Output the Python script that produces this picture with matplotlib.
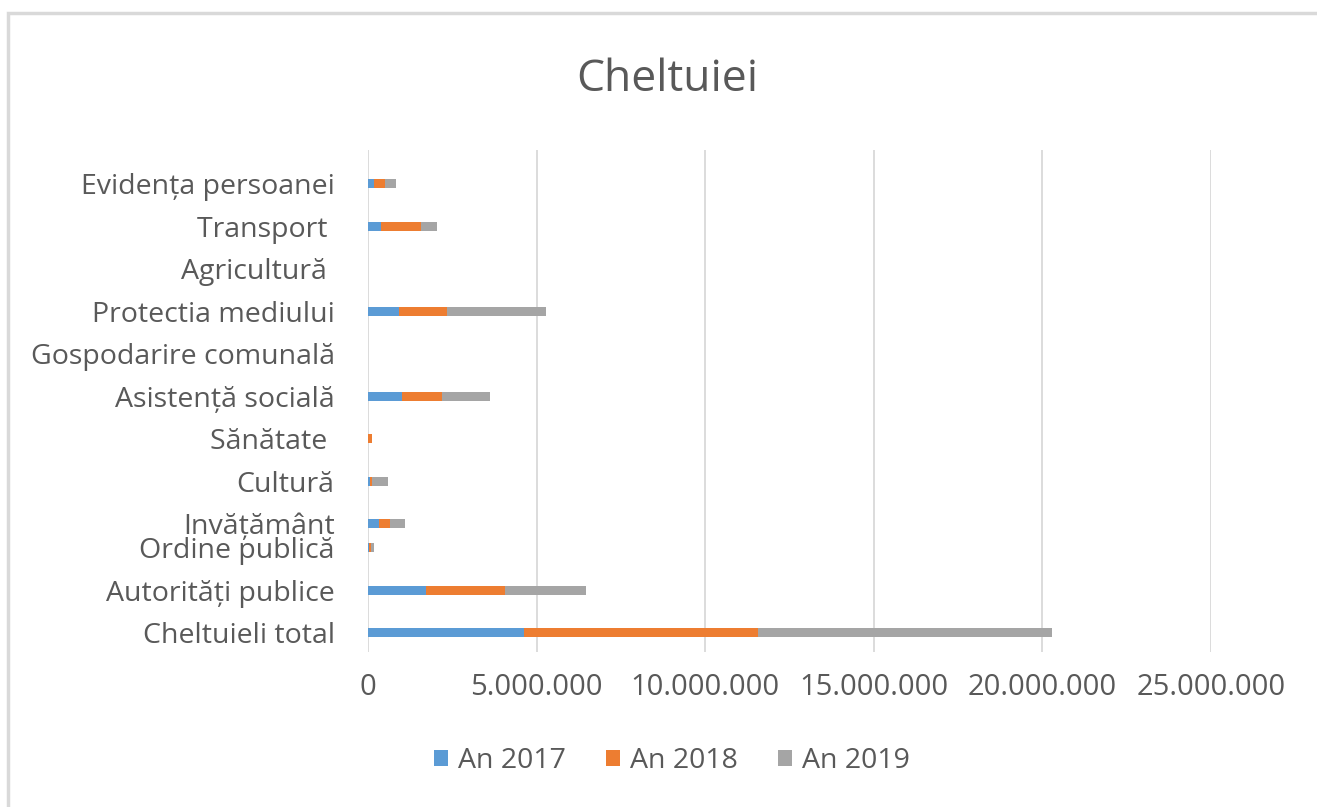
import numpy as np
import matplotlib.pyplot as plt
from matplotlib.patches import Rectangle, Patch
from matplotlib.ticker import FuncFormatter

plt.rcParams["font.family"] = ["Open Sans", "DejaVu Sans"]

# categories, bottom to top
categories = [
    "Cheltuieli total", "Autorități publice", "Ordine publică", "Invățământ",
    "Cultură", "Sănătate ", "Asistență socială", "Gospodarire comunală",
    "Protectia mediului", "Agricultură ", "Transport ", "Evidența persoanei",
]
an_2017 = [4620000, 1730000, 20000, 330000, 60000, 10000, 1010000, 0, 910000, 0, 390000, 180000]
an_2018 = [6960000, 2340000, 80000, 310000, 60000, 100000, 1200000, 0, 1420000, 0, 1190000, 320000]
an_2019 = [8710000, 2400000, 70000, 470000, 460000, 10000, 1400000, 0, 2950000, 0, 470000, 340000]
series_names = ["An 2017", "An 2018", "An 2019"]
colors = ["#5B9BD5", "#ED7D31", "#A5A5A5"]
text_col = "#595959"

# label rows as laid out in the original (Invatamant sits close to Ordine publica)
y = np.arange(len(categories), dtype=float)
y[3:] -= 0.435

fig = plt.figure(figsize=(13.17, 8.07), dpi=100)
ax = fig.add_axes([0.2794, 0.1921, 0.6401, 0.622])

left = np.zeros(len(categories))
for vals, name, c in zip([an_2017, an_2018, an_2019], series_names, colors):
    ax.barh(y, vals, left=left, height=0.21, color=c, label=name, zorder=3)
    left += np.array(vals)

ax.set_xlim(0, 25000000)
ax.set_ylim(-0.45, 11.36)
ax.set_xticks(np.arange(0, 25000001, 5000000))
ax.xaxis.set_major_formatter(FuncFormatter(lambda v, p: f"{int(v):,}".replace(",", ".")))
ax.set_yticks(y)
ax.set_yticklabels(categories)
ax.grid(axis="x", color="#D9D9D9", linewidth=1.3, zorder=0)
ax.tick_params(axis="y", length=0, pad=24, labelsize=20.5, labelcolor=text_col)
ax.tick_params(axis="x", length=0, pad=15, labelsize=21, labelcolor=text_col)
for s in ax.spines.values():
    s.set_visible(False)

fig.text(0.5065, 0.901, "Cheltuiei", ha="center", va="center", fontsize=32, color=text_col)

handles = [Patch(facecolor=c, label=n) for c, n in zip(colors, series_names)]
fig.legend(handles=handles, loc="center", bbox_to_anchor=(0.51, 0.057), ncol=3,
           frameon=False, fontsize=20.5, labelcolor=text_col, handlelength=0.5,
           handleheight=0.5, handletextpad=0.35, columnspacing=1.4)

# chart border (only top and left visible in the crop)
fig.patches.append(Rectangle((8 / 1317, -0.1), 1.2, 1 - 13 / 807 + 0.1,
                             transform=fig.transFigure, fill=False,
                             edgecolor="#D9D9D9", linewidth=2.5))

fig.savefig("out.png", dpi=100)
